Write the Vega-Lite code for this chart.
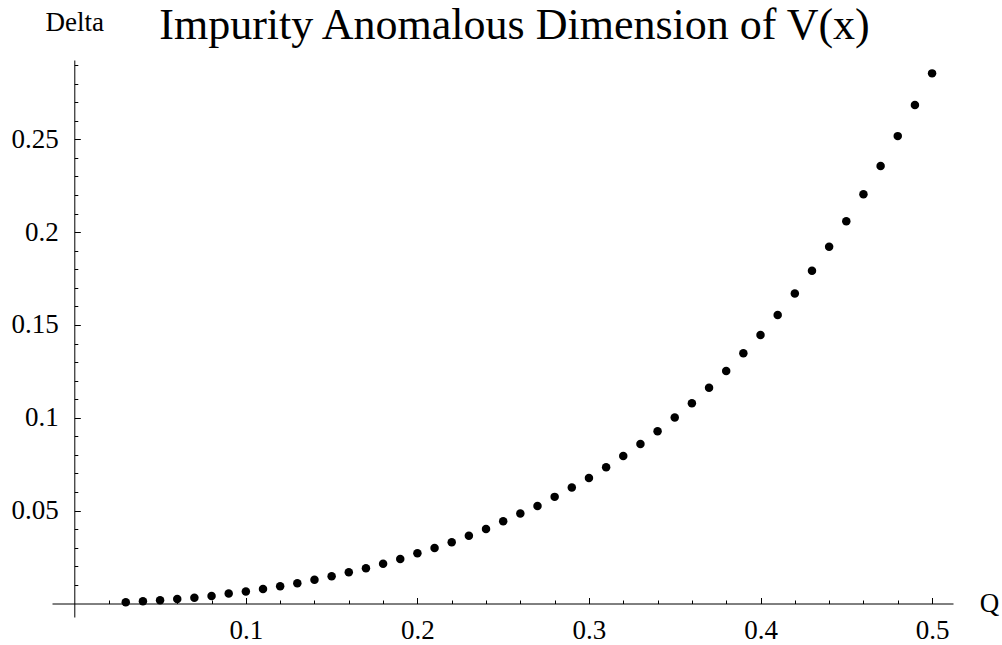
{
  "$schema": "https://vega.github.io/schema/vega-lite/v6.json",
  "autosize": {"type": "none"},
  "padding": {"left": 52, "top": 60, "right": 49, "bottom": 28},
  "width": 901,
  "height": 557,
  "background": "white",
  "config": {"view": {"stroke": null}, "font": "Liberation Serif"},
  "title": {
    "text": "Impurity Anomalous Dimension of V(x)",
    "font": "Liberation Serif",
    "fontSize": 44,
    "fontWeight": "normal",
    "color": "black",
    "anchor": "middle",
    "baseline": "alphabetic",
    "offset": -28,
    "dx": 12,
    "dy": 47
  },
  "data": {
    "values": [
      {"Q": 0.03, "Delta": 0.0006}, {"Q": 0.04, "Delta": 0.0012}, {"Q": 0.05, "Delta": 0.0017},
      {"Q": 0.06, "Delta": 0.0024}, {"Q": 0.07, "Delta": 0.0031}, {"Q": 0.08, "Delta": 0.0040},
      {"Q": 0.09, "Delta": 0.0053}, {"Q": 0.10, "Delta": 0.0064}, {"Q": 0.11, "Delta": 0.0078},
      {"Q": 0.12, "Delta": 0.0093}, {"Q": 0.13, "Delta": 0.0109}, {"Q": 0.14, "Delta": 0.0127},
      {"Q": 0.15, "Delta": 0.0146}, {"Q": 0.16, "Delta": 0.0168}, {"Q": 0.17, "Delta": 0.0190},
      {"Q": 0.18, "Delta": 0.0214}, {"Q": 0.19, "Delta": 0.0240}, {"Q": 0.20, "Delta": 0.0270},
      {"Q": 0.21, "Delta": 0.0299}, {"Q": 0.22, "Delta": 0.0330}, {"Q": 0.23, "Delta": 0.0364},
      {"Q": 0.24, "Delta": 0.0401}, {"Q": 0.25, "Delta": 0.0443}, {"Q": 0.26, "Delta": 0.0484},
      {"Q": 0.27, "Delta": 0.0525}, {"Q": 0.28, "Delta": 0.0574}, {"Q": 0.29, "Delta": 0.0624},
      {"Q": 0.30, "Delta": 0.0676}, {"Q": 0.31, "Delta": 0.0733}, {"Q": 0.32, "Delta": 0.0794},
      {"Q": 0.33, "Delta": 0.0859}, {"Q": 0.34, "Delta": 0.0927}, {"Q": 0.35, "Delta": 0.1001},
      {"Q": 0.36, "Delta": 0.1078}, {"Q": 0.37, "Delta": 0.1162}, {"Q": 0.38, "Delta": 0.1252},
      {"Q": 0.39, "Delta": 0.1347}, {"Q": 0.40, "Delta": 0.1446}, {"Q": 0.41, "Delta": 0.1554},
      {"Q": 0.42, "Delta": 0.1670}, {"Q": 0.43, "Delta": 0.1792}, {"Q": 0.44, "Delta": 0.1921},
      {"Q": 0.45, "Delta": 0.2058}, {"Q": 0.46, "Delta": 0.2204}, {"Q": 0.47, "Delta": 0.2356},
      {"Q": 0.48, "Delta": 0.2517}, {"Q": 0.49, "Delta": 0.2684}, {"Q": 0.50, "Delta": 0.2855}
    ]
  },
  "layer": [
    {
      "mark": {"type": "point", "filled": true, "shape": "circle", "color": "black", "opacity": 1, "size": 72},
      "encoding": {
        "x": {
          "field": "Q", "type": "quantitative",
          "scale": {"domain": [-0.013, 0.5122], "nice": false, "zero": false},
          "axis": {
            "orient": "bottom", "offset": -13.5,
            "values": [0.1, 0.2, 0.3, 0.4, 0.5], "format": "~g",
            "grid": false, "domainColor": "black", "domainWidth": 1,
            "tickColor": "black", "tickWidth": 1, "tickSize": -6,
            "labelFont": "Liberation Serif", "labelFontSize": 27, "labelColor": "black",
            "labelPadding": 20, "labelFlush": false, "labelOverlap": false,
            "title": "Q", "titleFont": "Liberation Serif", "titleFontSize": 27,
            "titleFontWeight": "normal", "titleColor": "black",
            "titleX": 937, "titleY": 0, "titleAngle": 0, "titleAlign": "center", "titleBaseline": "middle"
          }
        },
        "y": {
          "field": "Delta", "type": "quantitative",
          "scale": {"domain": [-0.0073, 0.2927], "nice": false, "zero": false},
          "axis": {
            "orient": "left", "offset": -22.3,
            "values": [0.05, 0.1, 0.15, 0.2, 0.25], "format": "~g",
            "grid": false, "domainColor": "black", "domainWidth": 1,
            "tickColor": "black", "tickWidth": 1, "tickSize": -6,
            "labelFont": "Liberation Serif", "labelFontSize": 27, "labelColor": "black",
            "labelPadding": 22, "labelFlush": false, "labelOverlap": false,
            "title": "Delta", "titleFont": "Liberation Serif", "titleFontSize": 27,
            "titleFontWeight": "normal", "titleColor": "black",
            "titleX": 0, "titleY": -30, "titleAngle": 0, "titleAlign": "center", "titleBaseline": "alphabetic"
          }
        }
      }
    },
    {
      "mark": {"type": "point", "opacity": 0},
      "encoding": {
        "x": {
          "field": "Q", "type": "quantitative",
          "scale": {"domain": [-0.013, 0.5122], "nice": false, "zero": false},
          "axis": {
            "orient": "bottom", "offset": -13.5,
            "values": [0.02, 0.04, 0.06, 0.08, 0.12, 0.14, 0.16, 0.18, 0.22, 0.24, 0.26, 0.28, 0.32, 0.34, 0.36, 0.38, 0.42, 0.44, 0.46, 0.48],
            "grid": false, "domain": false, "labels": false, "title": null,
            "tickColor": "black", "tickWidth": 1, "tickSize": -3.5
          }
        },
        "y": {
          "field": "Delta", "type": "quantitative",
          "scale": {"domain": [-0.0073, 0.2927], "nice": false, "zero": false},
          "axis": {
            "orient": "left", "offset": -22.3,
            "values": [0.01, 0.02, 0.03, 0.04, 0.06, 0.07, 0.08, 0.09, 0.11, 0.12, 0.13, 0.14, 0.16, 0.17, 0.18, 0.19, 0.21, 0.22, 0.23, 0.24, 0.26, 0.27, 0.28, 0.29],
            "grid": false, "domain": false, "labels": false, "title": null,
            "tickColor": "black", "tickWidth": 1, "tickSize": -3.5
          }
        }
      }
    }
  ],
  "resolve": {"axis": {"x": "independent", "y": "independent"}}
}
